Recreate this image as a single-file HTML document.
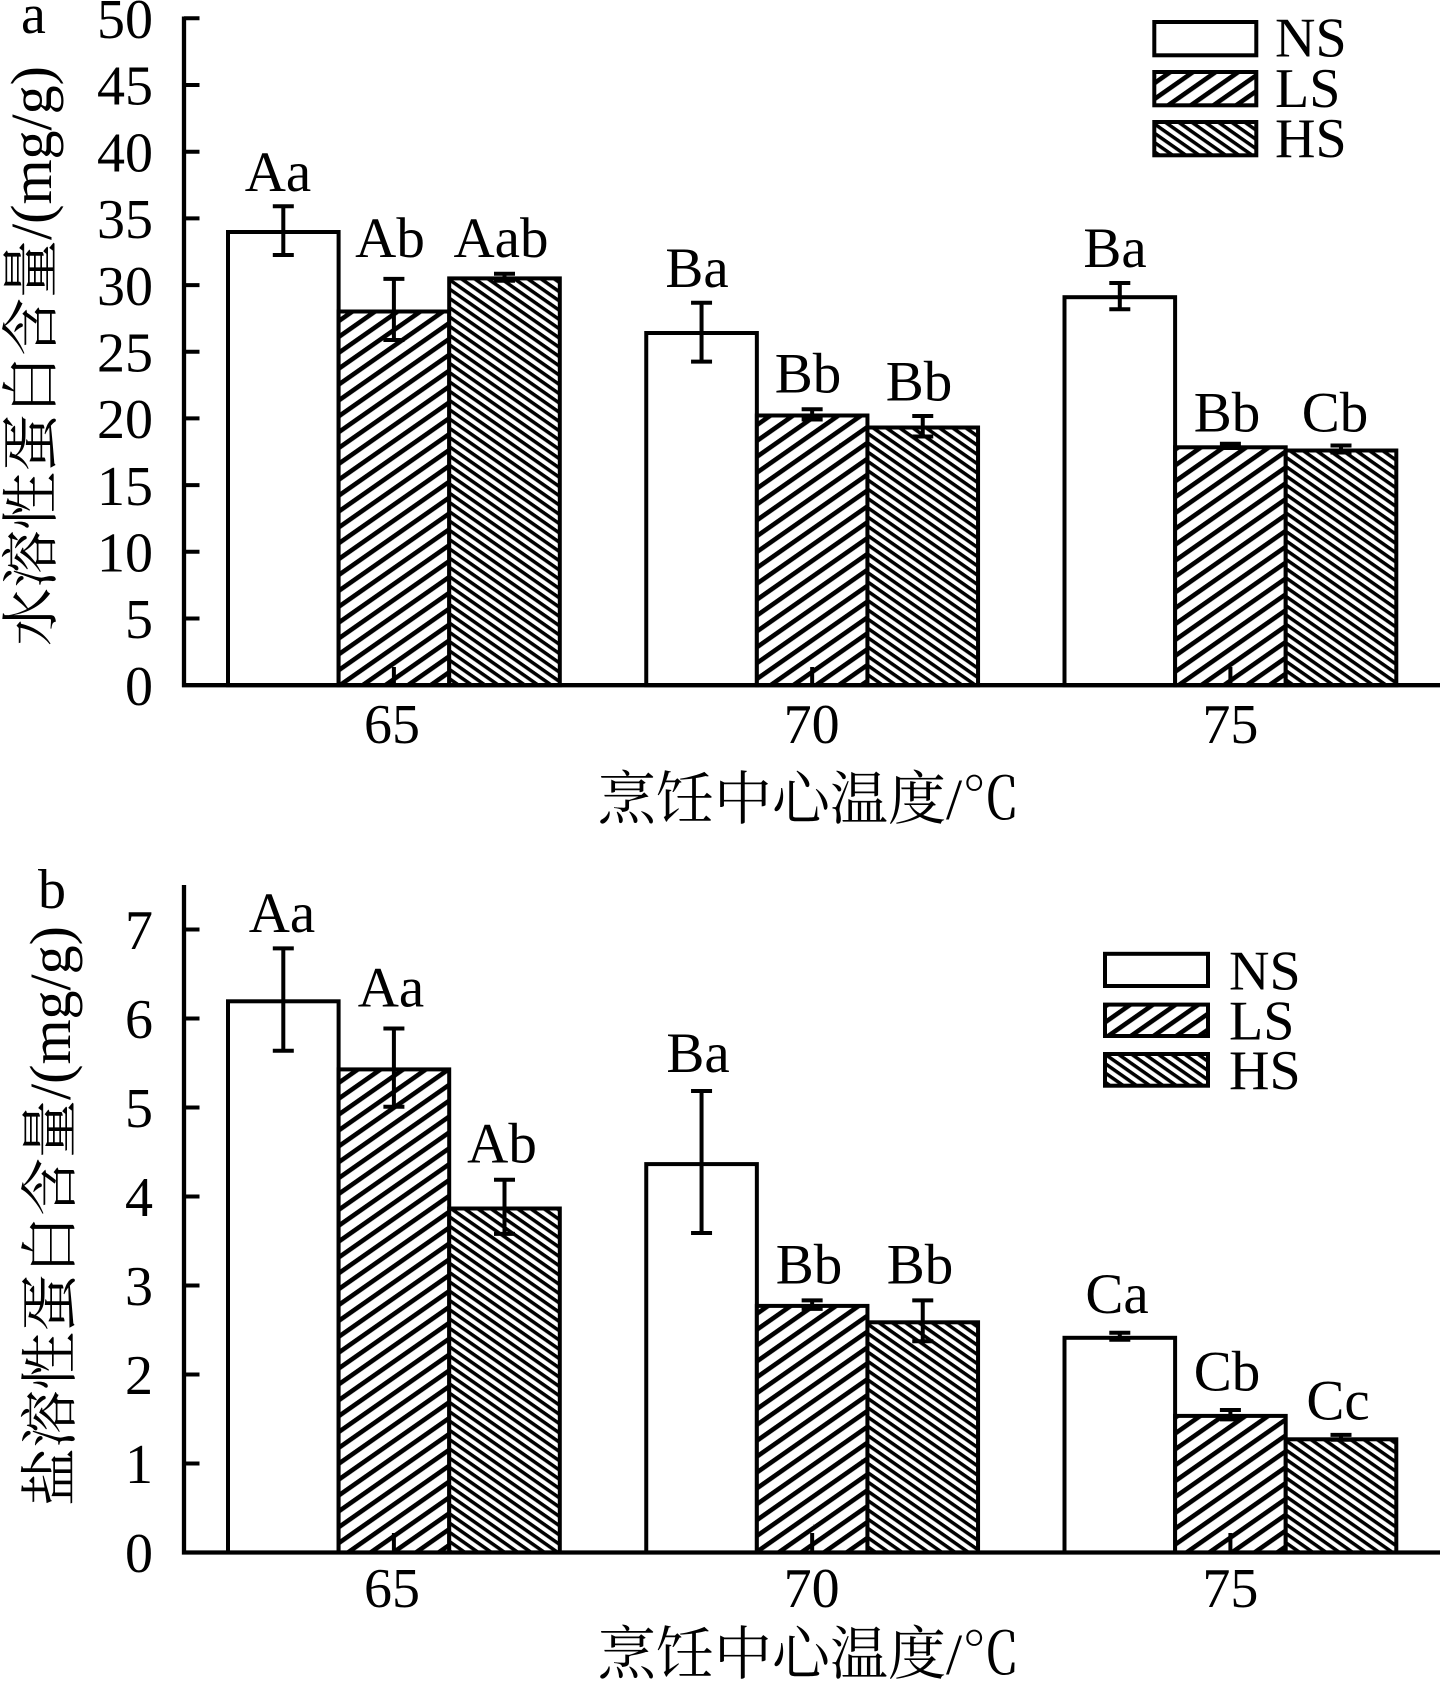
<!DOCTYPE html>
<html>
<head>
<meta charset="utf-8">
<style>
html,body{margin:0;padding:0;background:#fff;}
svg{display:block;}
text{font-family:"Liberation Serif","Noto Serif CJK SC",serif;fill:#000;}
</style>
</head>
<body>
<svg width="1440" height="1681" viewBox="0 0 1440 1681" xmlns="http://www.w3.org/2000/svg">
<defs>
  <pattern id="ls" patternUnits="userSpaceOnUse" width="13" height="13" patternTransform="rotate(-35)">
    <rect width="13" height="13" fill="#fff"/>
    <rect width="13" height="4.6" fill="#000"/>
  </pattern>
  <pattern id="hs" patternUnits="userSpaceOnUse" width="7.6" height="7.6" patternTransform="rotate(35)">
    <rect width="7.6" height="7.6" fill="#fff"/>
    <rect width="7.6" height="3.5" fill="#000"/>
  </pattern>
</defs>

<!-- ================= PANEL A ================= -->
<g stroke="#000" stroke-width="4">
  <!-- bars -->
  <rect x="228" y="232" width="110.6" height="453.2" fill="#fff"/>
  <rect x="338.6" y="311.5" width="110.6" height="373.7" fill="url(#ls)"/>
  <rect x="449.2" y="278.4" width="110.6" height="406.8" fill="url(#hs)"/>

  <rect x="646.25" y="333" width="110.6" height="352.2" fill="#fff"/>
  <rect x="756.85" y="415.5" width="110.6" height="269.7" fill="url(#ls)"/>
  <rect x="867.45" y="427.5" width="110.6" height="257.7" fill="url(#hs)"/>

  <rect x="1064.5" y="297.2" width="110.6" height="388" fill="#fff"/>
  <rect x="1175.1" y="447.3" width="110.6" height="237.9" fill="url(#ls)"/>
  <rect x="1285.7" y="450.5" width="110.6" height="234.7" fill="url(#hs)"/>

  <!-- error bars -->
  <path fill="none" d="
    M283.3 206.3 V255 M272.8 206.3 H293.8 M272.8 255 H293.8
    M393.9 278.9 V340 M383.4 278.9 H404.4 M383.4 340 H404.4
    M504.5 273.8 V280.8 M494 273.8 H515 M494 280.8 H515
    M701.55 302.7 V361.6 M691.05 302.7 H712.05 M691.05 361.6 H712.05
    M812.15 409.3 V419.5 M801.65 409.3 H822.65 M801.65 419.5 H822.65
    M922.75 416 V436.5 M912.25 416 H933.25 M912.25 436.5 H933.25
    M1119.8 283 V309.3 M1109.3 283 H1130.3 M1109.3 309.3 H1130.3
    M1230.4 443.7 V448 M1219.9 443.7 H1240.9 M1219.9 448 H1240.9
    M1341 445.5 V452.5 M1330.5 445.5 H1351.5 M1330.5 452.5 H1351.5
  "/>

  <!-- axes -->
  <path fill="none" stroke-width="4.3" d="M184 16.5 V687.3 M182 685.2 H1440"/>
  <!-- y ticks -->
  <path fill="none" d="
    M184 18.3 H199.5 M184 85 H199.5 M184 151.7 H199.5 M184 218.4 H199.5
    M184 285.1 H199.5 M184 351.8 H199.5 M184 418.4 H199.5 M184 485.1 H199.5
    M184 551.8 H199.5 M184 618.5 H199.5
    M393.9 685 V667 M812.15 685 V667 M1230.4 685 V667
  "/>
</g>

<!-- y tick labels A -->
<g font-size="56" text-anchor="end">
  <text x="153" y="38">50</text>
  <text x="153" y="104.7">45</text>
  <text x="153" y="171.4">40</text>
  <text x="153" y="238.1">35</text>
  <text x="153" y="304.8">30</text>
  <text x="153" y="371.5">25</text>
  <text x="153" y="438.1">20</text>
  <text x="153" y="504.8">15</text>
  <text x="153" y="571.5">10</text>
  <text x="153" y="638.2">5</text>
  <text x="153" y="704.9">0</text>
</g>

<!-- x tick labels A -->
<g font-size="56" text-anchor="middle">
  <text x="392" y="743">65</text>
  <text x="811.6" y="743">70</text>
  <text x="1230.4" y="743">75</text>
</g>

<!-- annotations A -->
<g font-size="57" text-anchor="middle">
  <text x="278" y="191">Aa</text>
  <text x="390" y="257">Ab</text>
  <text x="501" y="257">Aab</text>
  <text x="697" y="287">Ba</text>
  <text x="808" y="392.6">Bb</text>
  <text x="919" y="400.4">Bb</text>
  <text x="1115" y="267">Ba</text>
  <text x="1227" y="431.6">Bb</text>
  <text x="1335" y="431.6">Cb</text>
</g>

<!-- legend A -->
<g stroke="#000" stroke-width="4">
  <rect x="1154.3" y="22" width="102" height="33.3" fill="#fff"/>
  <rect x="1154.3" y="72" width="102" height="33.3" fill="url(#ls)"/>
  <rect x="1154.3" y="122" width="102" height="33.3" fill="url(#hs)"/>
</g>
<g font-size="56">
  <text x="1275" y="56.7">NS</text>
  <text x="1275" y="107">LS</text>
  <text x="1275" y="157">HS</text>
</g>

<!-- labels A -->
<text x="21" y="33" font-size="56">a</text>
<text transform="translate(51,356) rotate(-90)" text-anchor="middle" font-size="58">水溶性蛋白含量/(mg/g)</text>
<text x="809" y="819" text-anchor="middle" font-size="58">烹饪中心温度/℃</text>

<!-- ================= PANEL B ================= -->
<g stroke="#000" stroke-width="4">
  <rect x="228" y="1001.3" width="110.6" height="551.2" fill="#fff"/>
  <rect x="338.6" y="1069.4" width="110.6" height="483.1" fill="url(#ls)"/>
  <rect x="449.2" y="1208.5" width="110.6" height="344" fill="url(#hs)"/>

  <rect x="646.25" y="1164.1" width="110.6" height="388.4" fill="#fff"/>
  <rect x="756.85" y="1305.9" width="110.6" height="246.6" fill="url(#ls)"/>
  <rect x="867.45" y="1322.3" width="110.6" height="230.2" fill="url(#hs)"/>

  <rect x="1064.5" y="1337.8" width="110.6" height="214.7" fill="#fff"/>
  <rect x="1175.1" y="1415.9" width="110.6" height="136.6" fill="url(#ls)"/>
  <rect x="1285.7" y="1439.3" width="110.6" height="113.2" fill="url(#hs)"/>

  <path fill="none" d="
    M283.3 948.4 V1050.7 M272.8 948.4 H293.8 M272.8 1050.7 H293.8
    M393.9 1028.5 V1106.7 M383.4 1028.5 H404.4 M383.4 1106.7 H404.4
    M504.5 1179.8 V1233.9 M494 1179.8 H515 M494 1233.9 H515
    M701.55 1091 V1233 M691.05 1091 H712.05 M691.05 1233 H712.05
    M812.15 1300.4 V1308.9 M801.65 1300.4 H822.65 M801.65 1308.9 H822.65
    M922.75 1300.4 V1341.2 M912.25 1300.4 H933.25 M912.25 1341.2 H933.25
    M1119.8 1332.8 V1339.7 M1109.3 1332.8 H1130.3 M1109.3 1339.7 H1130.3
    M1230.4 1410 V1419.4 M1219.9 1410 H1240.9 M1219.9 1419.4 H1240.9
    M1341 1434.9 V1439.8 M1330.5 1434.9 H1351.5 M1330.5 1439.8 H1351.5
  "/>

  <path fill="none" stroke-width="4.3" d="M184 885 V1554.6 M182 1552.5 H1440"/>
  <path fill="none" d="
    M184 929.5 H199.5 M184 1018.5 H199.5 M184 1107.5 H199.5 M184 1196.5 H199.5
    M184 1285.5 H199.5 M184 1374.5 H199.5 M184 1463.5 H199.5
    M393.9 1552 V1533 M812.15 1552 V1533 M1230.4 1552 V1533
  "/>
</g>

<g font-size="56" text-anchor="end">
  <text x="153" y="949">7</text>
  <text x="153" y="1038">6</text>
  <text x="153" y="1127">5</text>
  <text x="153" y="1216">4</text>
  <text x="153" y="1305">3</text>
  <text x="153" y="1394">2</text>
  <text x="153" y="1483">1</text>
  <text x="153" y="1572">0</text>
</g>

<g font-size="56" text-anchor="middle">
  <text x="392" y="1607">65</text>
  <text x="811.6" y="1607">70</text>
  <text x="1230.4" y="1607">75</text>
</g>

<g font-size="57" text-anchor="middle">
  <text x="282" y="932">Aa</text>
  <text x="391" y="1006.6">Aa</text>
  <text x="502" y="1162.6">Ab</text>
  <text x="698" y="1072">Ba</text>
  <text x="809" y="1283.5">Bb</text>
  <text x="920" y="1283.5">Bb</text>
  <text x="1117" y="1313">Ca</text>
  <text x="1227" y="1390.5">Cb</text>
  <text x="1338" y="1419.4">Cc</text>
</g>

<g stroke="#000" stroke-width="4">
  <rect x="1105" y="953.8" width="103" height="32.2" fill="#fff"/>
  <rect x="1105" y="1004.6" width="103" height="31.4" fill="url(#ls)"/>
  <rect x="1105" y="1054" width="103" height="31.7" fill="url(#hs)"/>
</g>
<g font-size="56">
  <text x="1229" y="989.6">NS</text>
  <text x="1229" y="1039.5">LS</text>
  <text x="1229" y="1089">HS</text>
</g>

<text x="38" y="908" font-size="56">b</text>
<text transform="translate(70,1216) rotate(-90)" text-anchor="middle" font-size="58">盐溶性蛋白含量/(mg/g)</text>
<text x="809" y="1674" text-anchor="middle" font-size="58">烹饪中心温度/℃</text>
</svg>
</body>
</html>
